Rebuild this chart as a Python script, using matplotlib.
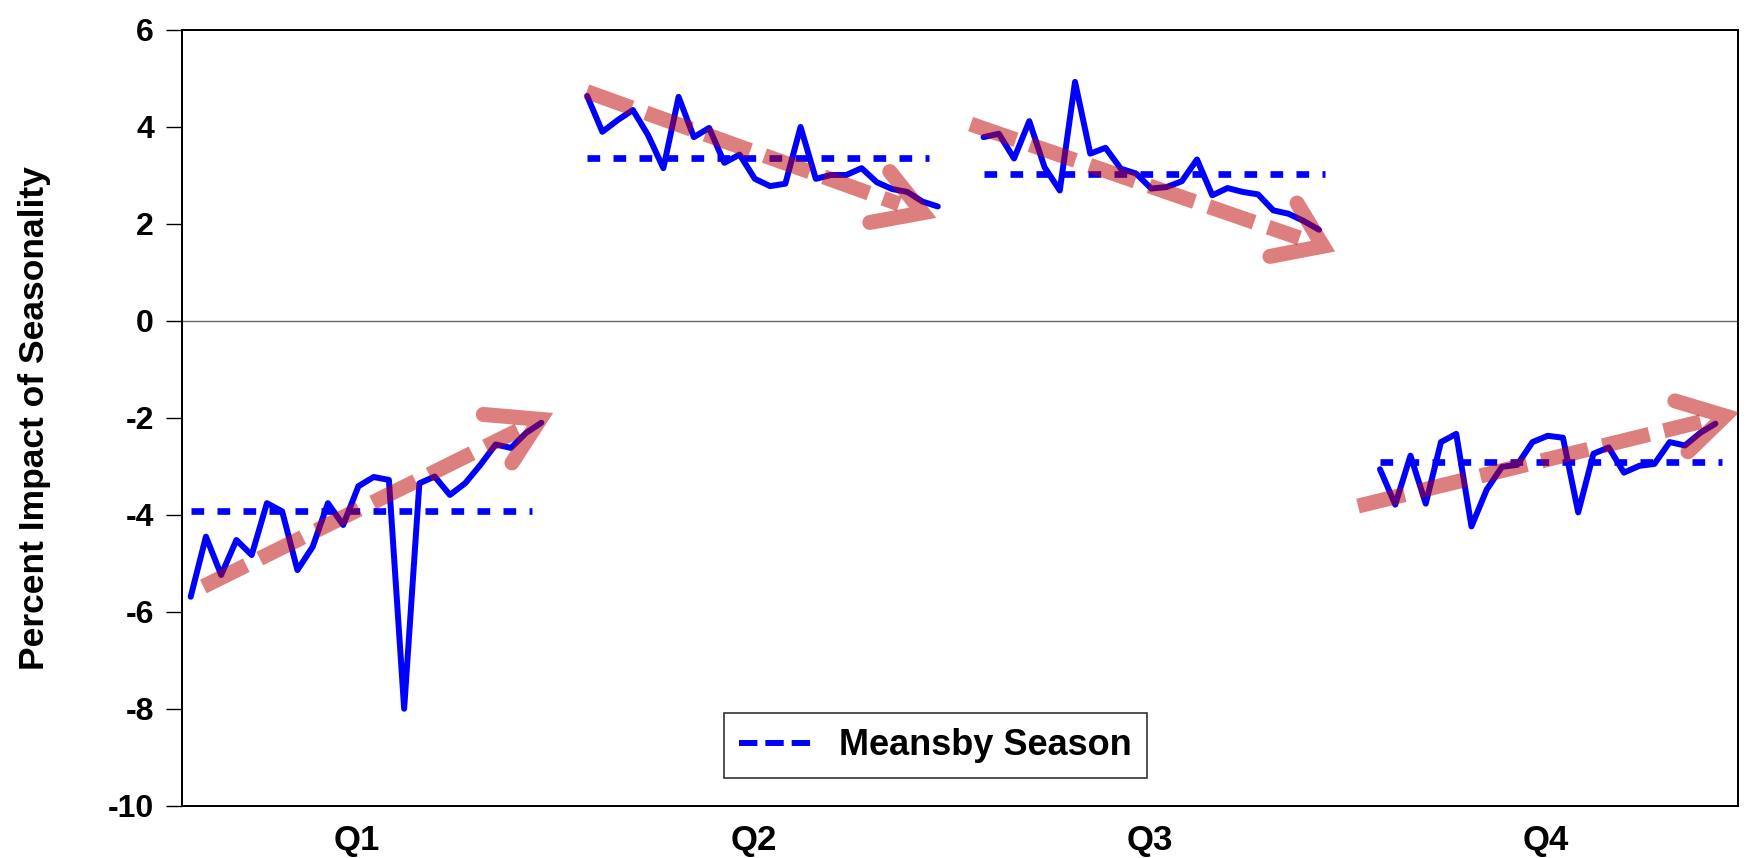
import numpy as np
import matplotlib
matplotlib.use("Agg")
import matplotlib.pyplot as plt
from matplotlib.lines import Line2D

plt.rcParams['font.family'] = ['Liberation Sans', 'DejaVu Sans']
plt.rcParams['axes.unicode_minus'] = False

# ---- data (percent impact of seasonality, one value per year) ----
seasons = ['Q1', 'Q2', 'Q3', 'Q4']
q1 = [-5.69, -4.45, -5.24, -4.52, -4.83, -3.76, -3.93, -5.14, -4.66, -3.76, -4.21, -3.41,
      -3.22, -3.28, -8.00, -3.35, -3.21, -3.59, -3.35, -2.97, -2.55, -2.62, -2.31, -2.10]
q2 = [4.64, 3.90, 4.14, 4.35, 3.83, 3.15, 4.62, 3.79, 3.98, 3.26, 3.43, 2.93,
      2.78, 2.83, 4.00, 2.93, 3.01, 3.01, 3.15, 2.86, 2.72, 2.66, 2.46, 2.36]
q3 = [3.79, 3.86, 3.35, 4.12, 3.17, 2.69, 4.93, 3.45, 3.57, 3.14, 3.04, 2.73,
      2.76, 2.88, 3.33, 2.59, 2.74, 2.66, 2.61, 2.28, 2.21, 2.06, 1.88]
q4 = [-3.06, -3.79, -2.78, -3.77, -2.50, -2.33, -4.24, -3.48, -3.01, -2.97, -2.50, -2.37,
      -2.41, -3.95, -2.74, -2.61, -3.13, -2.99, -2.95, -2.50, -2.57, -2.31, -2.12]
series = [q1, q2, q3, q4]
legend_label = 'Meansby Season'
y_label = 'Percent Impact of Seasonality'
y_ticks = [-10, -8, -6, -4, -2, 0, 2, 4, 6]

# hand-drawn trend arrows (data coords: slot position, value)
arrow_tail = [(0.83, -5.48), (25.97, 4.73), (51.15, 4.06), (76.56, -3.82)]
arrow_shaft_end = [(21.46, -2.26), (46.47, 2.41), (72.72, 1.71), (99.03, -2.08)]
arrow_tip = [(22.92, -2.03), (48.01, 2.23), (74.27, 1.54), (100.62, -1.96)]
arrow_arm_a = [(19.19, -1.93), (45.85, 3.08), (72.56, 2.43), (97.34, -1.65)]
arrow_arm_b = [(21.07, -2.93), (44.54, 2.03), (70.78, 1.33), (98.20, -2.70)]

# ---- layout / style ----
STRIDE = 26          # slots per season block
MEAN_SPAN = 22.4
LABEL_OFF = 10.9
BLUE = '#0000FF'
RED = (0.745, 0.0, 0.0)
RED_ALPHA = 0.5
RED_LW = 10.8

fig = plt.figure(figsize=(17.49, 8.58), dpi=100)
W, H = 1749, 858
ax = fig.add_axes([182.3 / W, 1 - 805.7 / H, (1738.3 - 182.3) / W, (805.7 - 30) / H])

ax.axhline(0, color='#666666', lw=1.0, zorder=1)

for s, vals in enumerate(series):
    x = s * STRIDE + np.arange(len(vals))
    ax.plot(x, vals, color=BLUE, lw=4.3, solid_joinstyle='round', solid_capstyle='round', zorder=3)
    m = np.mean(vals)
    ax.plot([s * STRIDE, s * STRIDE + MEAN_SPAN], [m, m], color=BLUE, lw=4.8,
            linestyle=(0, (1.9, 2.0)), dash_capstyle='butt', zorder=3)

for t, e, tip, a, b in zip(arrow_tail, arrow_shaft_end, arrow_tip, arrow_arm_a, arrow_arm_b):
    ax.plot([t[0], e[0]], [t[1], e[1]], color=RED, alpha=RED_ALPHA, lw=RED_LW,
            linestyle=(0, (3.2, 1.0)), dash_capstyle='butt', zorder=5, clip_on=False)
    ax.plot([a[0], tip[0], b[0]], [a[1], tip[1], b[1]], color=RED, alpha=RED_ALPHA, lw=RED_LW,
            solid_joinstyle='miter', solid_capstyle='round', zorder=5, clip_on=False)

ax.set_xlim(-0.55, 101.5)
ax.set_ylim(-10, 6)
ax.set_yticks(y_ticks)
ax.set_yticklabels([str(v) for v in y_ticks])
ax.set_xticks([s * STRIDE + LABEL_OFF for s in range(len(seasons))])
ax.set_xticklabels(seasons)
ax.tick_params(axis='y', direction='out', length=11.5, width=1.0, pad=9, labelsize=23)
ax.tick_params(axis='x', length=0, pad=13, labelsize=25)
for lab in ax.get_xticklabels() + ax.get_yticklabels():
    lab.set_fontweight('bold')
for sp in ax.spines.values():
    sp.set_linewidth(1.44)

ax.set_ylabel(y_label, fontsize=25.5, fontweight='bold', va='center')
ax.yaxis.set_label_coords(-0.095, 0.5)

handle = Line2D([], [], color=BLUE, lw=4.3, linestyle=(0, (3.08, 1.33)), dash_capstyle='butt')
leg = ax.legend([handle], [legend_label], loc='lower left', bbox_to_anchor=(0.348, 0.0353),
                borderaxespad=0, frameon=True, fancybox=False, shadow=False,
                prop={'size': 26, 'weight': 'bold'}, handlelength=2.08, handletextpad=0.69,
                borderpad=0.42)
leg.get_frame().set_edgecolor('black')
leg.get_frame().set_linewidth(1.2)
leg.set_zorder(6)

fig.savefig('out.png', dpi=100)
